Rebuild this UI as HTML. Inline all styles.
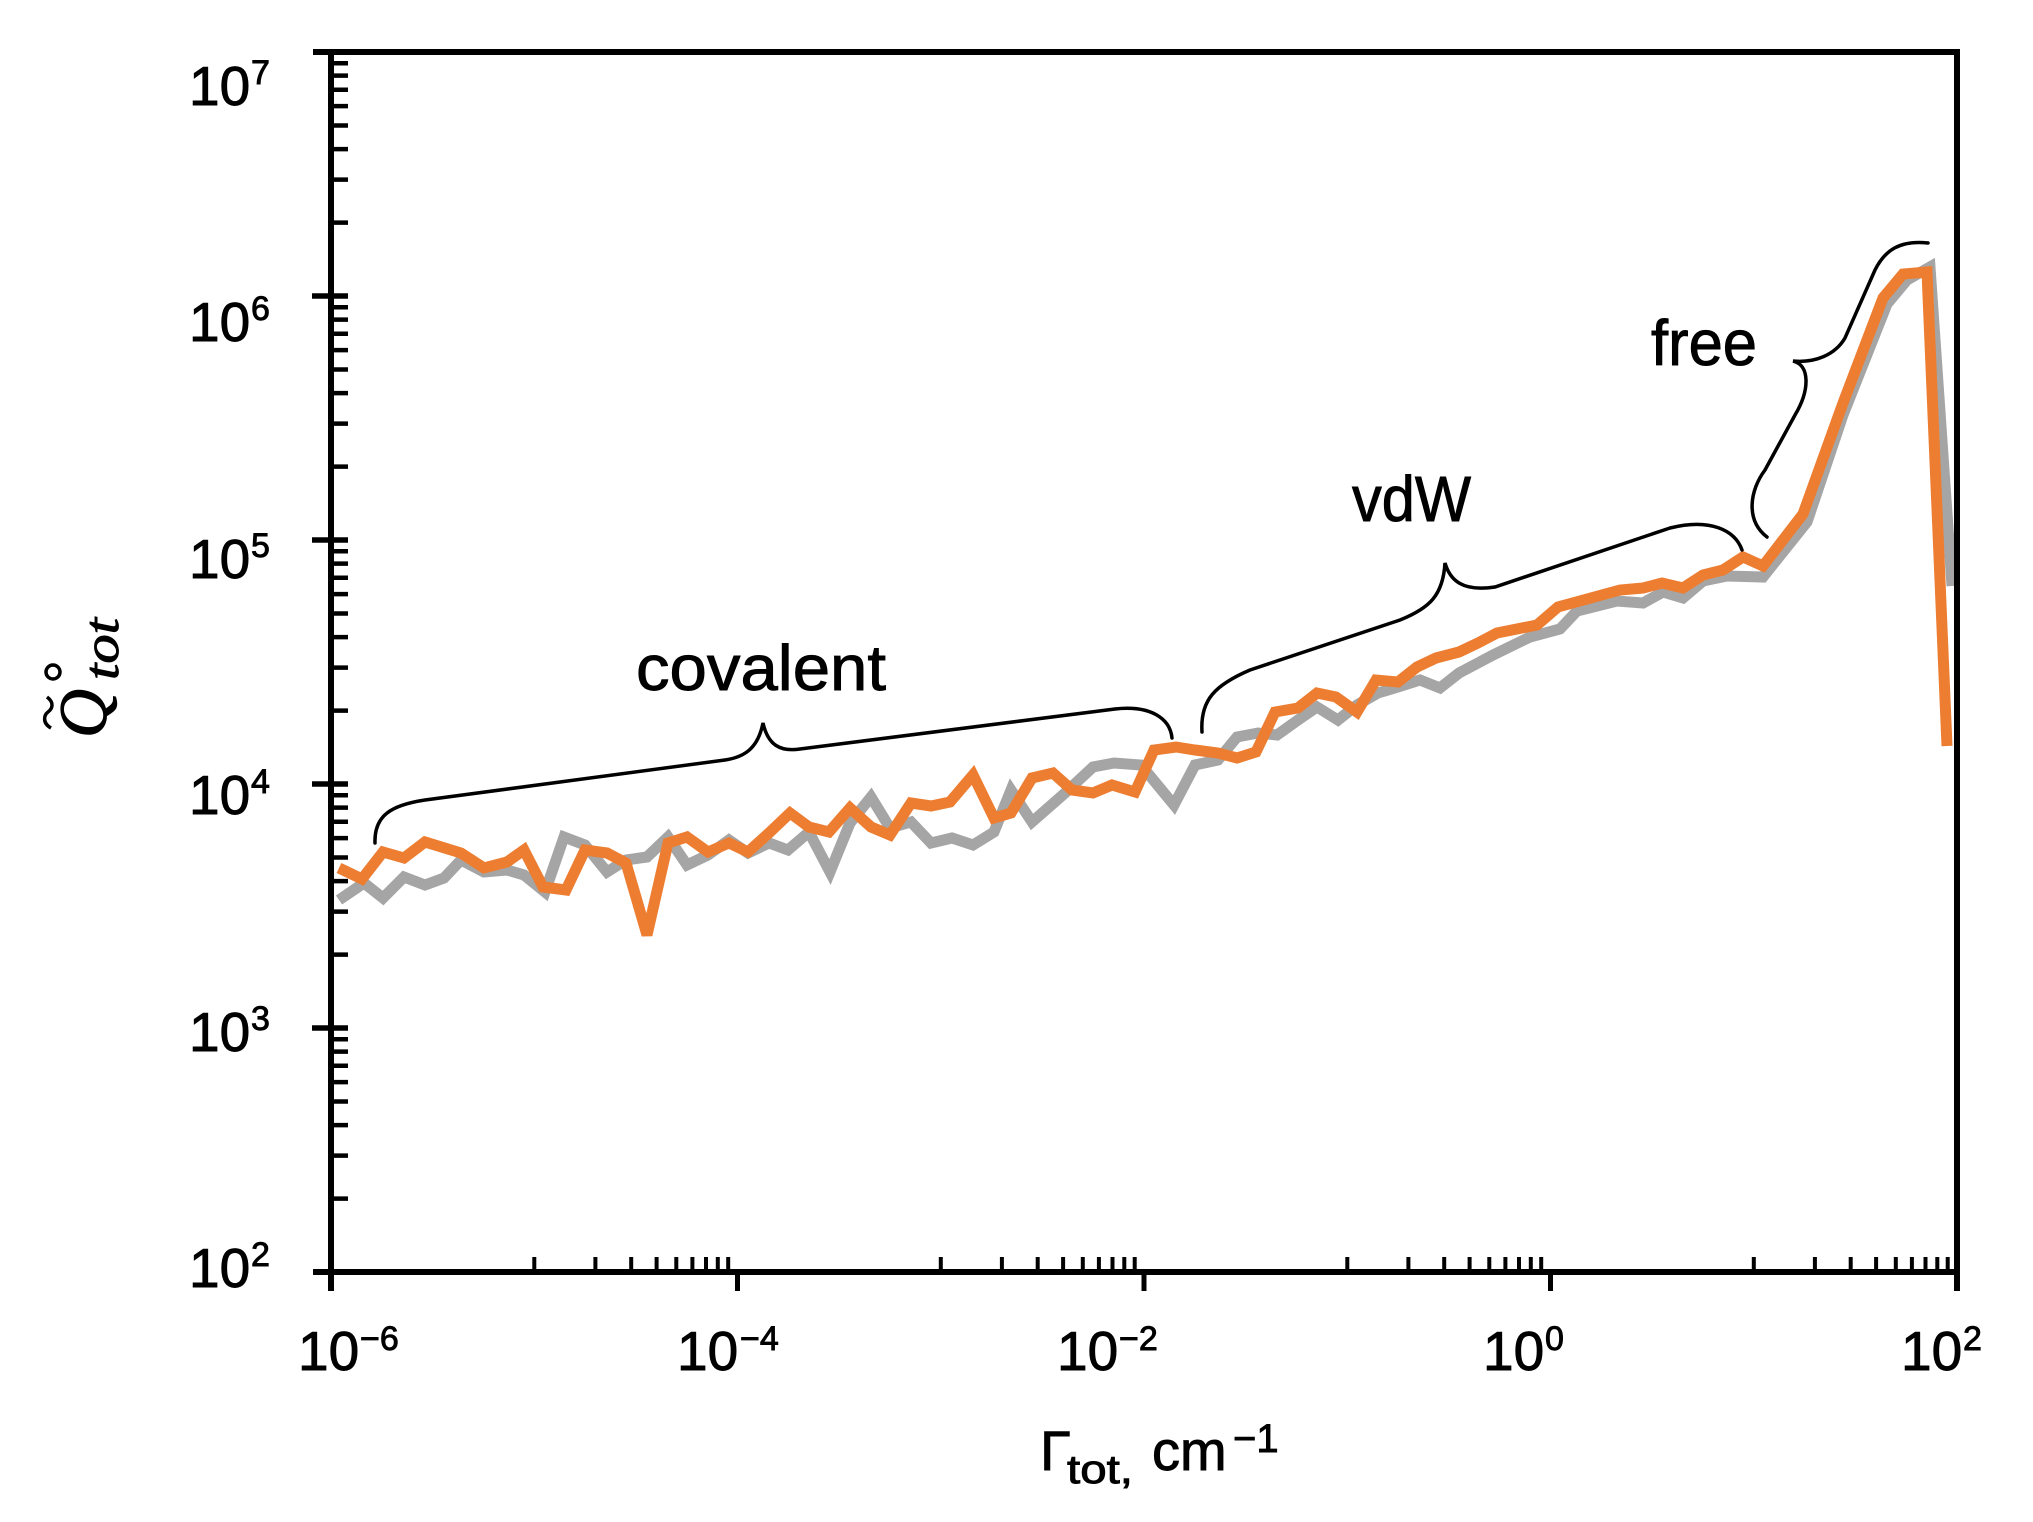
<!DOCTYPE html>
<html>
<head>
<meta charset="utf-8">
<style>
  html, body { margin: 0; padding: 0; background: #ffffff; }
  svg { display: block; }
  text { font-family: "Liberation Sans", sans-serif; fill: #000; stroke: #000; stroke-width: 0.9px; }
  .serif { font-family: "Liberation Serif", serif; font-style: italic; }
</style>
</head>
<body>
<svg width="2033" height="1522" viewBox="0 0 2033 1522" xmlns="http://www.w3.org/2000/svg">
  <rect x="0" y="0" width="2033" height="1522" fill="#ffffff"/>

  <!-- Series: gray -->
  <polyline fill="none" stroke="#A5A5A5" stroke-width="11" stroke-linejoin="miter" stroke-miterlimit="3"
    points="339,900 364,883 383,898 404,877 425,885 444,878 461,860 484,872 507,870 524,875 545,892 564,837 585,845 607,872 626,860 647,857 668,837 687,865 708,855 729,840 748,853 769,843 788,850 809,832 830,872 850,823 871,797 890,828 911,822 931,843 952,838 973,845 994,832 1011,790 1032,822 1065,793 1093,767 1114,763 1141,765 1174,805 1195,765 1218,760 1237,737 1258,733 1277,735 1298,720 1317,707 1338,720 1357,705 1378,693 1398,687 1420,680 1440,688 1459,673 1493,655 1530,637 1560,629 1577,611 1617,601 1643,603 1663,592 1683,598 1703,581 1727,576 1763,577 1807,522 1843,415 1887,304 1907,280 1930,267 1952,586"/>

  <!-- Series: orange -->
  <polyline fill="none" stroke="#ED7D31" stroke-width="11" stroke-linejoin="miter" stroke-miterlimit="3"
    points="339,868 362,879 383,852 404,858 425,842 461,853 484,868 507,862 524,850 543,887 566,890 585,850 607,853 626,863 647,935 668,843 687,837 708,852 729,843 748,852 769,833 790,813 809,827 829,832 850,808 871,827 890,835 911,803 931,806 950,802 973,775 994,818 1011,813 1032,778 1053,773 1072,790 1093,793 1112,785 1135,792 1154,750 1176,747 1195,750 1218,753 1237,758 1256,752 1275,712 1298,708 1317,693 1336,697 1357,712 1376,680 1398,682 1417,667 1436,658 1459,652 1478,643 1497,633 1537,625 1558,607 1620,590 1643,588 1662,583 1683,588 1703,575 1723,570 1743,557 1763,566 1803,514 1843,403 1883,298 1903,274 1927,272 1947,746"/>

  <!-- Braces -->
  <g fill="none" stroke="#000" stroke-width="3.5" stroke-linecap="round">
    <path d="M375,843 C374,815 392,805 425,800 L725,760 C745,757 758,748 763,723 C768,745 780,752 800,749 L1115,709 C1150,705 1170,718 1172,738"/>
    <path d="M1202,732 C1200,700 1215,685 1250,670 L1400,620 C1430,608 1443,595 1445,563 C1450,580 1462,592 1495,587 L1670,528 C1710,518 1735,530 1742,550"/>
    <path d="M1767,537 C1745,520 1750,490 1765,470 L1795,415 C1810,390 1810,365 1793,361 C1815,363 1835,355 1845,338 L1875,270 C1885,250 1900,240 1928,243"/>
  </g>

  <!-- Annotation labels -->
  <text x="636" y="690" font-size="64" textLength="250" lengthAdjust="spacingAndGlyphs">covalent</text>
  <text x="1352" y="521" font-size="64" textLength="119" lengthAdjust="spacingAndGlyphs">vdW</text>
  <text x="1651" y="365" font-size="64" textLength="106" lengthAdjust="spacingAndGlyphs">free</text>

  <!-- Axes frame -->
  <g stroke="#000" stroke-width="6" fill="none">
    <line x1="313" y1="52" x2="1960" y2="52"/>
    <line x1="313" y1="1272" x2="1960" y2="1272"/>
    <line x1="331" y1="49" x2="331" y2="1291"/>
    <line x1="1957" y1="49" x2="1957" y2="1291"/>
  </g>

  <!-- Y major ticks -->
  <g stroke="#000" stroke-width="5.5">
    <line x1="312" y1="1028" x2="348" y2="1028"/>
    <line x1="312" y1="784" x2="348" y2="784"/>
    <line x1="312" y1="540" x2="348" y2="540"/>
    <line x1="312" y1="296" x2="348" y2="296"/>
  </g>
  <!-- Y minor ticks -->
  <g stroke="#000" stroke-width="4.5">
    <line x1="331" y1="1198.6" x2="348" y2="1198.6"/><line x1="331" y1="1155.6" x2="348" y2="1155.6"/><line x1="331" y1="1125.1" x2="348" y2="1125.1"/><line x1="331" y1="1101.5" x2="348" y2="1101.5"/><line x1="331" y1="1082.1" x2="348" y2="1082.1"/><line x1="331" y1="1065.8" x2="348" y2="1065.8"/><line x1="331" y1="1051.6" x2="348" y2="1051.6"/><line x1="331" y1="1039.2" x2="348" y2="1039.2"/>
    <line x1="331" y1="954.6" x2="348" y2="954.6"/><line x1="331" y1="911.6" x2="348" y2="911.6"/><line x1="331" y1="881.1" x2="348" y2="881.1"/><line x1="331" y1="857.5" x2="348" y2="857.5"/><line x1="331" y1="838.1" x2="348" y2="838.1"/><line x1="331" y1="821.8" x2="348" y2="821.8"/><line x1="331" y1="807.6" x2="348" y2="807.6"/><line x1="331" y1="795.2" x2="348" y2="795.2"/>
    <line x1="331" y1="710.6" x2="348" y2="710.6"/><line x1="331" y1="667.6" x2="348" y2="667.6"/><line x1="331" y1="637.1" x2="348" y2="637.1"/><line x1="331" y1="613.5" x2="348" y2="613.5"/><line x1="331" y1="594.1" x2="348" y2="594.1"/><line x1="331" y1="577.8" x2="348" y2="577.8"/><line x1="331" y1="563.6" x2="348" y2="563.6"/><line x1="331" y1="551.2" x2="348" y2="551.2"/>
    <line x1="331" y1="466.6" x2="348" y2="466.6"/><line x1="331" y1="423.6" x2="348" y2="423.6"/><line x1="331" y1="393.1" x2="348" y2="393.1"/><line x1="331" y1="369.5" x2="348" y2="369.5"/><line x1="331" y1="350.1" x2="348" y2="350.1"/><line x1="331" y1="333.8" x2="348" y2="333.8"/><line x1="331" y1="319.6" x2="348" y2="319.6"/><line x1="331" y1="307.2" x2="348" y2="307.2"/>
    <line x1="331" y1="222.6" x2="348" y2="222.6"/><line x1="331" y1="179.6" x2="348" y2="179.6"/><line x1="331" y1="149.1" x2="348" y2="149.1"/><line x1="331" y1="125.5" x2="348" y2="125.5"/><line x1="331" y1="106.1" x2="348" y2="106.1"/><line x1="331" y1="89.8" x2="348" y2="89.8"/><line x1="331" y1="75.6" x2="348" y2="75.6"/><line x1="331" y1="63.2" x2="348" y2="63.2"/>
  </g>

  <!-- X major ticks -->
  <g stroke="#000" stroke-width="5">
    <line x1="737.5" y1="1272" x2="737.5" y2="1291"/>
    <line x1="1144" y1="1272" x2="1144" y2="1291"/>
    <line x1="1550.5" y1="1272" x2="1550.5" y2="1291"/>
  </g>
  <!-- X minor ticks -->
  <g stroke="#000" stroke-width="4">
    <line x1="534.3" y1="1257" x2="534.3" y2="1272"/><line x1="595.4" y1="1257" x2="595.4" y2="1272"/><line x1="631.2" y1="1257" x2="631.2" y2="1272"/><line x1="656.6" y1="1257" x2="656.6" y2="1272"/><line x1="676.3" y1="1257" x2="676.3" y2="1272"/><line x1="692.4" y1="1257" x2="692.4" y2="1272"/><line x1="706.0" y1="1257" x2="706.0" y2="1272"/><line x1="717.8" y1="1257" x2="717.8" y2="1272"/><line x1="728.2" y1="1257" x2="728.2" y2="1272"/>
    <line x1="940.8" y1="1257" x2="940.8" y2="1272"/><line x1="1001.9" y1="1257" x2="1001.9" y2="1272"/><line x1="1037.7" y1="1257" x2="1037.7" y2="1272"/><line x1="1063.1" y1="1257" x2="1063.1" y2="1272"/><line x1="1082.8" y1="1257" x2="1082.8" y2="1272"/><line x1="1098.9" y1="1257" x2="1098.9" y2="1272"/><line x1="1112.5" y1="1257" x2="1112.5" y2="1272"/><line x1="1124.3" y1="1257" x2="1124.3" y2="1272"/><line x1="1134.7" y1="1257" x2="1134.7" y2="1272"/>
    <line x1="1347.3" y1="1257" x2="1347.3" y2="1272"/><line x1="1408.4" y1="1257" x2="1408.4" y2="1272"/><line x1="1444.2" y1="1257" x2="1444.2" y2="1272"/><line x1="1469.6" y1="1257" x2="1469.6" y2="1272"/><line x1="1489.3" y1="1257" x2="1489.3" y2="1272"/><line x1="1505.4" y1="1257" x2="1505.4" y2="1272"/><line x1="1519.0" y1="1257" x2="1519.0" y2="1272"/><line x1="1530.8" y1="1257" x2="1530.8" y2="1272"/><line x1="1541.2" y1="1257" x2="1541.2" y2="1272"/>
    <line x1="1753.8" y1="1257" x2="1753.8" y2="1272"/><line x1="1814.9" y1="1257" x2="1814.9" y2="1272"/><line x1="1850.7" y1="1257" x2="1850.7" y2="1272"/><line x1="1876.1" y1="1257" x2="1876.1" y2="1272"/><line x1="1895.8" y1="1257" x2="1895.8" y2="1272"/><line x1="1911.9" y1="1257" x2="1911.9" y2="1272"/><line x1="1925.5" y1="1257" x2="1925.5" y2="1272"/><line x1="1937.3" y1="1257" x2="1937.3" y2="1272"/><line x1="1947.7" y1="1257" x2="1947.7" y2="1272"/>
  </g>

  <!-- Y tick labels -->
  <g>
    <text x="189" y="105" font-size="55">10</text><text x="251" y="84" font-size="34">7</text>
    <text x="189" y="341" font-size="55">10</text><text x="251" y="320" font-size="34">6</text>
    <text x="189" y="578" font-size="55">10</text><text x="251" y="557" font-size="34">5</text>
    <text x="189" y="814" font-size="55">10</text><text x="251" y="793" font-size="34">4</text>
    <text x="189" y="1051" font-size="55">10</text><text x="251" y="1030" font-size="34">3</text>
    <text x="189" y="1287" font-size="55">10</text><text x="251" y="1266" font-size="34">2</text>
  </g>

  <!-- X tick labels -->
  <g>
    <text x="298" y="1370" font-size="55">10</text><text x="360" y="1350" font-size="34">−6</text>
    <text x="677" y="1370" font-size="55">10</text><text x="740" y="1350" font-size="34">−4</text>
    <text x="1057" y="1370" font-size="55">10</text><text x="1119" y="1350" font-size="34">−2</text>
    <text x="1483" y="1370" font-size="55">10</text><text x="1545" y="1350" font-size="34">0</text>
    <text x="1901" y="1370" font-size="55">10</text><text x="1963" y="1350" font-size="34">2</text>
  </g>

  <!-- X axis title -->
  <text x="1040" y="1470" font-size="56">Γ</text>
  <text x="1067" y="1483" font-size="40" textLength="66" lengthAdjust="spacingAndGlyphs">tot,</text>
  <text x="1152" y="1470" font-size="56">cm</text>
  <text x="1233" y="1452" font-size="40">−1</text>

  <!-- Y axis title (rotated) -->
  <g transform="translate(106,738) rotate(-90)">
    <text class="serif" x="0" y="0" font-size="68">Q</text>
    <text class="serif" x="58" y="12" font-size="50" textLength="62" lengthAdjust="spacingAndGlyphs">tot</text>
  </g>
  <!-- tilde over Q -->
  <path d="M51,728 C42,723 44,715 48,712 C52,709 55,703 47,697" fill="none" stroke="#000" stroke-width="3.5"/>
  <!-- degree ring -->
  <circle cx="53" cy="672" r="7" fill="none" stroke="#000" stroke-width="3.5"/>
</svg>
</body>
</html>
